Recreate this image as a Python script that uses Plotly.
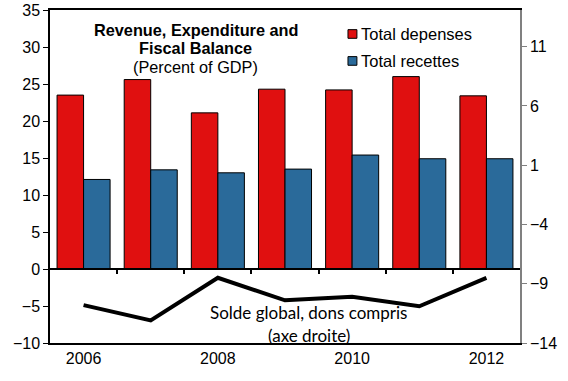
import plotly.graph_objects as go

years = ["2006", "2007", "2008", "2009", "2010", "2011", "2012"]
depenses = [23.5, 25.6, 21.1, 24.3, 24.2, 26.0, 23.4]
recettes = [12.1, 13.4, 13.0, 13.5, 15.4, 14.9, 14.9]
solde = [-10.8, -12.1, -8.5, -10.4, -10.1, -10.9, -8.5]
year_ticks = ["2006", "2008", "2010", "2012"]
left_ticks = [-10, -5, 0, 5, 10, 15, 20, 25, 30, 35]
right_ticks = [-14, -9, -4, 1, 6, 11]

RED = "#E01010"
BLUE = "#2A6A9A"
FONT = "Liberation Sans, Arial, sans-serif"

fig = go.Figure()
fig.add_trace(go.Bar(x=years, y=depenses, name="Total depenses",
                     marker=dict(color=RED, line=dict(color="black", width=1)),
                     xaxis="x", yaxis="y"))
fig.add_trace(go.Bar(x=years, y=recettes, name="Total recettes",
                     marker=dict(color=BLUE, line=dict(color="black", width=1)),
                     xaxis="x", yaxis="y"))
fig.add_trace(go.Scatter(x=years, y=solde, mode="lines",
                         line=dict(color="black", width=4),
                         name="Solde global", xaxis="x", yaxis="y2"))

zero_frac = (0 - left_ticks[0]) / (left_ticks[-1] - left_ticks[0])
boundaries = [i + 0.5 for i in range(len(years) - 1)]

fig.update_layout(
    width=568, height=381,
    margin=dict(l=50, r=48, t=10, b=38, autoexpand=False),
    paper_bgcolor="white", plot_bgcolor="white",
    showlegend=False,
    barmode="group", bargap=0.21, bargroupgap=0,
    font=dict(family=FONT, size=16, color="black"),
    xaxis=dict(type="category", tickvals=year_ticks, ticktext=year_ticks,
               showline=True, mirror=True, linecolor="black", linewidth=1.5,
               ticks="", showgrid=False, tickfont=dict(size=16),
               range=[-0.5, len(years) - 0.5], automargin=False),
    xaxis3=dict(overlaying="x", anchor="free", position=zero_frac,
                range=[-0.5, len(years) - 0.5], tickvals=boundaries,
                showticklabels=False, ticks="outside", ticklen=4,
                tickcolor="black", tickwidth=1.5,
                showline=True, linecolor="black", linewidth=1.5,
                showgrid=False, zeroline=False, automargin=False),
    yaxis=dict(range=[left_ticks[0], left_ticks[-1]], tickvals=left_ticks,
               showline=True, linecolor="black", linewidth=1.5,
               ticks="outside", ticklen=5, tickcolor="black",
               showgrid=False, zeroline=False, tickfont=dict(size=16),
               automargin=False),
    yaxis2=dict(range=[-14, 14.1], tickvals=right_ticks, overlaying="y",
                side="right", showline=True, linecolor="#808080", linewidth=1.5,
                ticks="outside", ticklen=5, tickcolor="#808080",
                showgrid=False, zeroline=False, tickfont=dict(size=16),
                automargin=False),
)

# invisible trace to activate xaxis3 (zero line with category boundary ticks)
fig.add_trace(go.Scatter(x=[None], y=[None], xaxis="x3", yaxis="y",
                         showlegend=False, hoverinfo="skip"))

ann = []
ann.append(dict(text="<b>Revenue, Expenditure and</b>", x=0.3106, y=0.940))
ann.append(dict(text="<b>Fiscal Balance</b>", x=0.3106, y=0.886))
ann.append(dict(text="(Percent of GDP)", x=0.3106, y=0.829))
for a in ann:
    fig.add_annotation(xref="paper", yref="paper", xanchor="center", yanchor="middle",
                       showarrow=False, font=dict(size=16.3, family=FONT), **a)

fig.add_annotation(text="Solde global, dons compris", x=0.551, y=0.091,
                   xref="paper", yref="paper", showarrow=False,
                   xanchor="center", yanchor="middle",
                   font=dict(family="Lato, sans-serif", size=17))
fig.add_annotation(text="(axe droite)", x=0.551, y=0.024,
                   xref="paper", yref="paper", showarrow=False,
                   xanchor="center", yanchor="middle",
                   font=dict(family="Lato, sans-serif", size=17))

legend_items = [("Total depenses", RED, 0.928), ("Total recettes", BLUE, 0.847)]
for label, col, yy in legend_items:
    fig.add_annotation(text=label, x=0.657, y=yy, xref="paper", yref="paper",
                       xanchor="left", yanchor="middle", showarrow=False,
                       font=dict(size=16.5, family=FONT))
    fig.add_shape(type="rect", xref="paper", yref="paper",
                  x0=0.634, x1=0.653, y0=yy - 0.013, y1=yy + 0.013,
                  fillcolor=col, line=dict(color="black", width=1))

fig.write_html("out.html")
